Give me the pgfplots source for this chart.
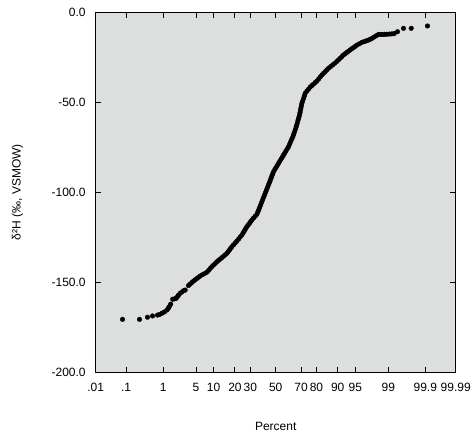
\documentclass[border=0pt]{standalone}
\usepackage{fontspec}
\setmainfont{Liberation Sans}
\usepackage{pgfplots}
\pgfplotsset{compat=1.18}

% x is the normal quantile of the plotting position; ticks carry the percent
\pgfplotstableread{
z v
-3.165 -170.6
-2.814 -170.6
-2.649 -169.4
-2.545 -168.7
-2.442 -168.2
-2.400 -167.9
-2.351 -167.2
-2.300 -166.5
-2.248 -165.4
-2.220 -164.5
-2.200 -163.6
-2.169 -162.1
-2.128 -159.4
-2.090 -159.2
-2.056 -158.9
-2.030 -158.0
-2.008 -157.1
-1.973 -156.1
-1.940 -155.4
-1.905 -154.7
-1.870 -154.3
-1.802 -151.8
-1.767 -151.0
-1.733 -150.1
-1.698 -149.3
-1.664 -148.6
-1.629 -147.9
-1.595 -147.2
-1.560 -146.5
-1.514 -145.8
-1.467 -145.1
-1.421 -144.4
-1.387 -143.4
-1.352 -142.3
-1.318 -141.3
-1.284 -140.4
-1.249 -139.5
-1.215 -138.6
-1.181 -137.8
-1.146 -137.1
-1.112 -136.3
-1.077 -135.5
-1.043 -134.7
-1.008 -133.9
-0.982 -133.0
-0.956 -132.1
-0.931 -131.1
-0.905 -130.2
-0.871 -129.2
-0.836 -128.1
-0.802 -127.1
-0.767 -126.0
-0.733 -124.8
-0.698 -123.7
-0.672 -122.5
-0.647 -121.4
-0.621 -120.2
-0.595 -119.1
-0.569 -118.2
-0.543 -117.3
-0.518 -116.3
-0.492 -115.4
-0.457 -114.3
-0.423 -113.3
-0.388 -112.2
-0.369 -110.9
-0.350 -109.7
-0.331 -108.4
-0.311 -107.0
-0.292 -105.7
-0.272 -104.3
-0.252 -102.9
-0.231 -101.5
-0.211 -100.1
-0.190 -98.7
-0.170 -97.3
-0.149 -95.9
-0.132 -94.7
-0.114 -93.5
-0.097 -92.2
-0.080 -91.0
-0.062 -89.8
-0.045 -88.6
-0.019 -87.4
0.006 -86.3
0.032 -85.1
0.058 -83.9
0.084 -82.8
0.110 -81.6
0.135 -80.5
0.161 -79.3
0.187 -78.2
0.213 -77.0
0.238 -75.9
0.264 -74.7
0.287 -73.3
0.310 -71.9
0.332 -70.5
0.355 -69.1
0.372 -67.7
0.390 -66.4
0.407 -65.0
0.424 -63.6
0.438 -62.3
0.451 -61.0
0.465 -59.7
0.478 -58.4
0.492 -57.1
0.502 -55.8
0.512 -54.5
0.521 -53.2
0.531 -51.9
0.541 -50.6
0.558 -49.2
0.576 -47.8
0.593 -46.4
0.610 -45.0
0.644 -43.8
0.679 -42.7
0.713 -41.5
0.748 -40.7
0.782 -39.9
0.817 -39.0
0.851 -38.2
0.886 -37.1
0.920 -35.9
0.955 -34.8
0.989 -33.9
1.023 -33.0
1.057 -32.0
1.091 -31.1
1.134 -30.2
1.178 -29.2
1.221 -28.3
1.264 -27.3
1.298 -26.4
1.333 -25.5
1.367 -24.6
1.401 -23.7
1.436 -23.0
1.470 -22.3
1.505 -21.6
1.539 -20.9
1.574 -20.2
1.609 -19.6
1.643 -18.9
1.678 -18.2
1.730 -17.5
1.781 -16.7
1.826 -16.3
1.870 -15.9
1.911 -15.5
1.952 -15.0
1.994 -14.4
2.035 -13.7
2.080 -13.0
2.124 -12.3
2.168 -12.3
2.211 -12.3
2.255 -12.2
2.298 -12.2
2.348 -12.1
2.398 -12.0
2.448 -11.8
2.517 -10.8
2.640 -8.9
2.800 -8.9
3.136 -7.6
}\dhdata

\definecolor{plotbg}{RGB}{221,222,222}

\begin{document}
\begin{tikzpicture}
\path[use as bounding box] (-95.7pt,-66.7pt) rectangle (380.3pt,372.3pt);
\begin{axis}[
    scale only axis,
    width=360pt, height=360pt,
    font=\fontsize{12}{14}\selectfont,
    axis background/.style={fill=plotbg},
    axis line style={line width=1pt},
    xmin=-3.719, xmax=3.719,
    ymin=-200, ymax=0,
    xtick={-3.7190,-3.0902,-2.3263,-1.6449,-1.2816,-0.8416,-0.5244,0,0.5244,0.8416,1.2816,1.6449,2.3263,3.0902,3.7190},
    xticklabels={.01,.1,1,5,10,20,30,50,70,80,90,95,99,99.9,99.99},
    ytick={-200,-150,-100,-50,0},
    yticklabels={-200.0,-150.0,-100.0,-50.0,0.0},
    tick align=inside,
    major tick length=5.5pt,
    tick style={black, line width=1pt},
    xticklabel style={yshift=-7.5pt},
    yticklabel style={xshift=-6.5pt},
    xlabel={Percent},
    xlabel style={at={(axis description cs:0.5,-0.151)}, anchor=center},
    ylabel={δ²H (‰, VSMOW)},
    ylabel style={at={(axis description cs:-0.2083,0.5)}, anchor=base},
]
\addplot[only marks, mark=*, mark size=2.3pt, black] table[x=z, y=v] {\dhdata};
\end{axis}
\end{tikzpicture}
\end{document}
